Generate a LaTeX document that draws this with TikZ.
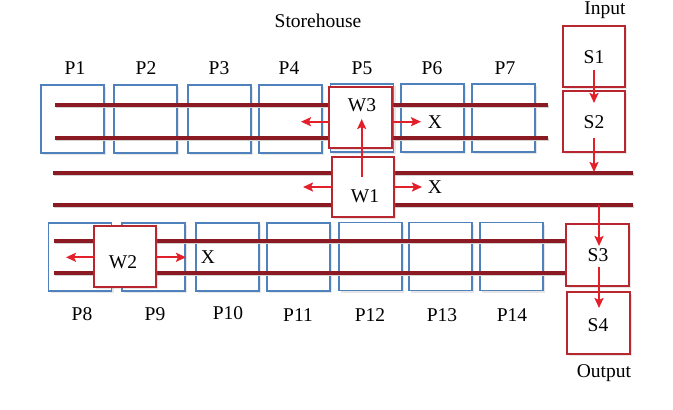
\documentclass[tikz,border=0pt]{standalone}
\usepackage{fontspec}
\setmainfont{Liberation Serif}
\usetikzlibrary{shadows,arrows.meta}
\definecolor{pblue}{HTML}{4F81BD}
\definecolor{boxred}{HTML}{B8262F}
\definecolor{trackred}{HTML}{8C1A22}
\definecolor{arrred}{HTML}{E3202A}
\tikzset{
  every node/.style={font=\fontsize{19.5}{22}\selectfont, inner sep=0pt},
  pbox/.style={draw=pblue, line width=1.8pt, fill=white, minimum width=63pt, minimum height=68pt,
    drop shadow={shadow xshift=2pt, shadow yshift=-2pt, opacity=0.2, fill=gray}},
  rbox/.style={draw=boxred, line width=2.2pt, fill=white, minimum width=62pt, minimum height=61pt,
    drop shadow={shadow xshift=2pt, shadow yshift=-2pt, opacity=0.2, fill=gray}},
  track/.style={draw=trackred, line width=3.4pt,
    preaction={draw=gray!35, line width=3pt, transform canvas={xshift=1pt,yshift=-1.8pt}}},
  arr/.style={draw=arrred, line width=2.2pt, -{Stealth[length=10pt,width=9pt,inset=2pt]}},
}
\begin{document}
\begin{tikzpicture}[x=1pt,y=-1pt]
\useasboundingbox (0,0) rectangle (673,410);
% top storage boxes
\node[pbox] (P1) at (72.5,119) {};
\node[pbox] (P2) at (145.2,119) {};
\node[pbox] (P3) at (219.2,119) {};
\node[pbox] (P4) at (290.3,119) {};
\node[pbox] (P5) at (362,118) {};
\node[pbox] (P6) at (432.3,118) {};
\node[pbox] (P7) at (503.7,118) {};
% bottom storage boxes
\node[pbox] (P8) at (80,257.3) {};
\node[pbox] (P9) at (153.3,257) {};
\node[pbox] (P10) at (227.3,257) {};
\node[pbox] (P11) at (298.3,257) {};
\node[pbox] (P12) at (370.3,256.5) {};
\node[pbox] (P13) at (440.8,256.5) {};
\node[pbox] (P14) at (511.7,256.5) {};
% labels
\node (L1) at (75,68) {P1};
\node (L2) at (146,68) {P2};
\node (L3) at (219,68) {P3};
\node (L4) at (289,68) {P4};
\node (L5) at (362,68) {P5};
\node (L6) at (432,68) {P6};
\node (L7) at (505,68) {P7};
\node (L8) at (82,314) {P8};
\node (L9) at (155,314) {P9};
\node (L10) at (228,313) {P10};
\node (L11) at (298,315) {P11};
\node (L12) at (370,315) {P12};
\node (L13) at (442,315) {P13};
\node (L14) at (512,315) {P14};
\node (store) at (318,21) {Storehouse};
\node (inp) at (605,10) {Input};
\node (outp) at (604,373) {Output};
% tracks
\coordinate (ta1) at (55,105);  \coordinate (tb1) at (548,105);
\coordinate (ta2) at (55,138);  \coordinate (tb2) at (548,138);
\coordinate (ma1) at (53,173);  \coordinate (mb1) at (633,173);
\coordinate (ma2) at (53,205);  \coordinate (mb2) at (633,205);
\coordinate (ba1) at (54,241);  \coordinate (bb1) at (566,241);
\coordinate (ba2) at (54,273);  \coordinate (bb2) at (566,273);
\draw[track] (ta1) -- (tb1);
\draw[track] (ta2) -- (tb2);
\draw[track] (ma1) -- (mb1);
\draw[track] (ma2) -- (mb2);
\draw[track] (ba1) -- (bb1);
\draw[track] (ba2) -- (bb2);
% red boxes
\node[rbox, minimum width=63pt, minimum height=61.3pt] (W3) at (360.5,117.3) {};
\node[rbox, minimum width=62.3pt, minimum height=60pt] (W1) at (362.8,186.7) {};
\node[rbox, minimum width=61.7pt, minimum height=61.6pt] (W2) at (125.2,256.5) {};
\node[rbox] (S1) at (593.8,56.3) {};
\node[rbox] (S2) at (593.8,121.2) {};
\node[rbox, minimum width=63.3pt, minimum height=62pt] (S3) at (597.3,255) {};
\node[rbox, minimum width=63.3pt, minimum height=62.3pt] (S4) at (598.3,322.8) {};
\node (tW3) at (362,105) {W3};
\node (tW1) at (365,196) {W1};
\node (tW2) at (123,262) {W2};
\node (tS1) at (594,57) {S1};
\node (tS2) at (594,122) {S2};
\node (tS3) at (598,255) {S3};
\node (tS4) at (598,325) {S4};
\node (X1) at (435,122) {X};
\node (X2) at (435,187) {X};
\node (X3) at (208,257) {X};
% arrows
\coordinate (w1up) at (361.7,177);
\coordinate (w3in) at (361.7,119);
\draw[arr] (w1up) -- (w3in);
\coordinate (w3l) at (330,121.7); \coordinate (w3le) at (301,121.7);
\coordinate (w3r) at (392,121.7); \coordinate (w3re) at (421,121.7);
\draw[arr] (w3l) -- (w3le);
\draw[arr] (w3r) -- (w3re);
\coordinate (w1l) at (331.5,187); \coordinate (w1le) at (303,187);
\coordinate (w1r) at (394,187); \coordinate (w1re) at (422,187);
\draw[arr] (w1l) -- (w1le);
\draw[arr] (w1r) -- (w1re);
\coordinate (w2l) at (94.5,257.3); \coordinate (w2le) at (66,257.3);
\coordinate (w2r) at (156,257.3); \coordinate (w2re) at (186,257.3);
\draw[arr] (w2l) -- (w2le);
\draw[arr] (w2r) -- (w2re);
\coordinate (s1a) at (594,70); \coordinate (s2e) at (594,103);
\draw[arr] (s1a) -- (s2e);
\coordinate (s2a) at (594,138); \coordinate (me) at (594,172);
\draw[arr] (s2a) -- (me);
\coordinate (ms) at (599,205); \coordinate (s3e) at (599,246);
\draw[arr] (ms) -- (s3e);
\coordinate (s3a) at (599,267); \coordinate (s4e) at (599,308);
\draw[arr] (s3a) -- (s4e);
\end{tikzpicture}
\end{document}
